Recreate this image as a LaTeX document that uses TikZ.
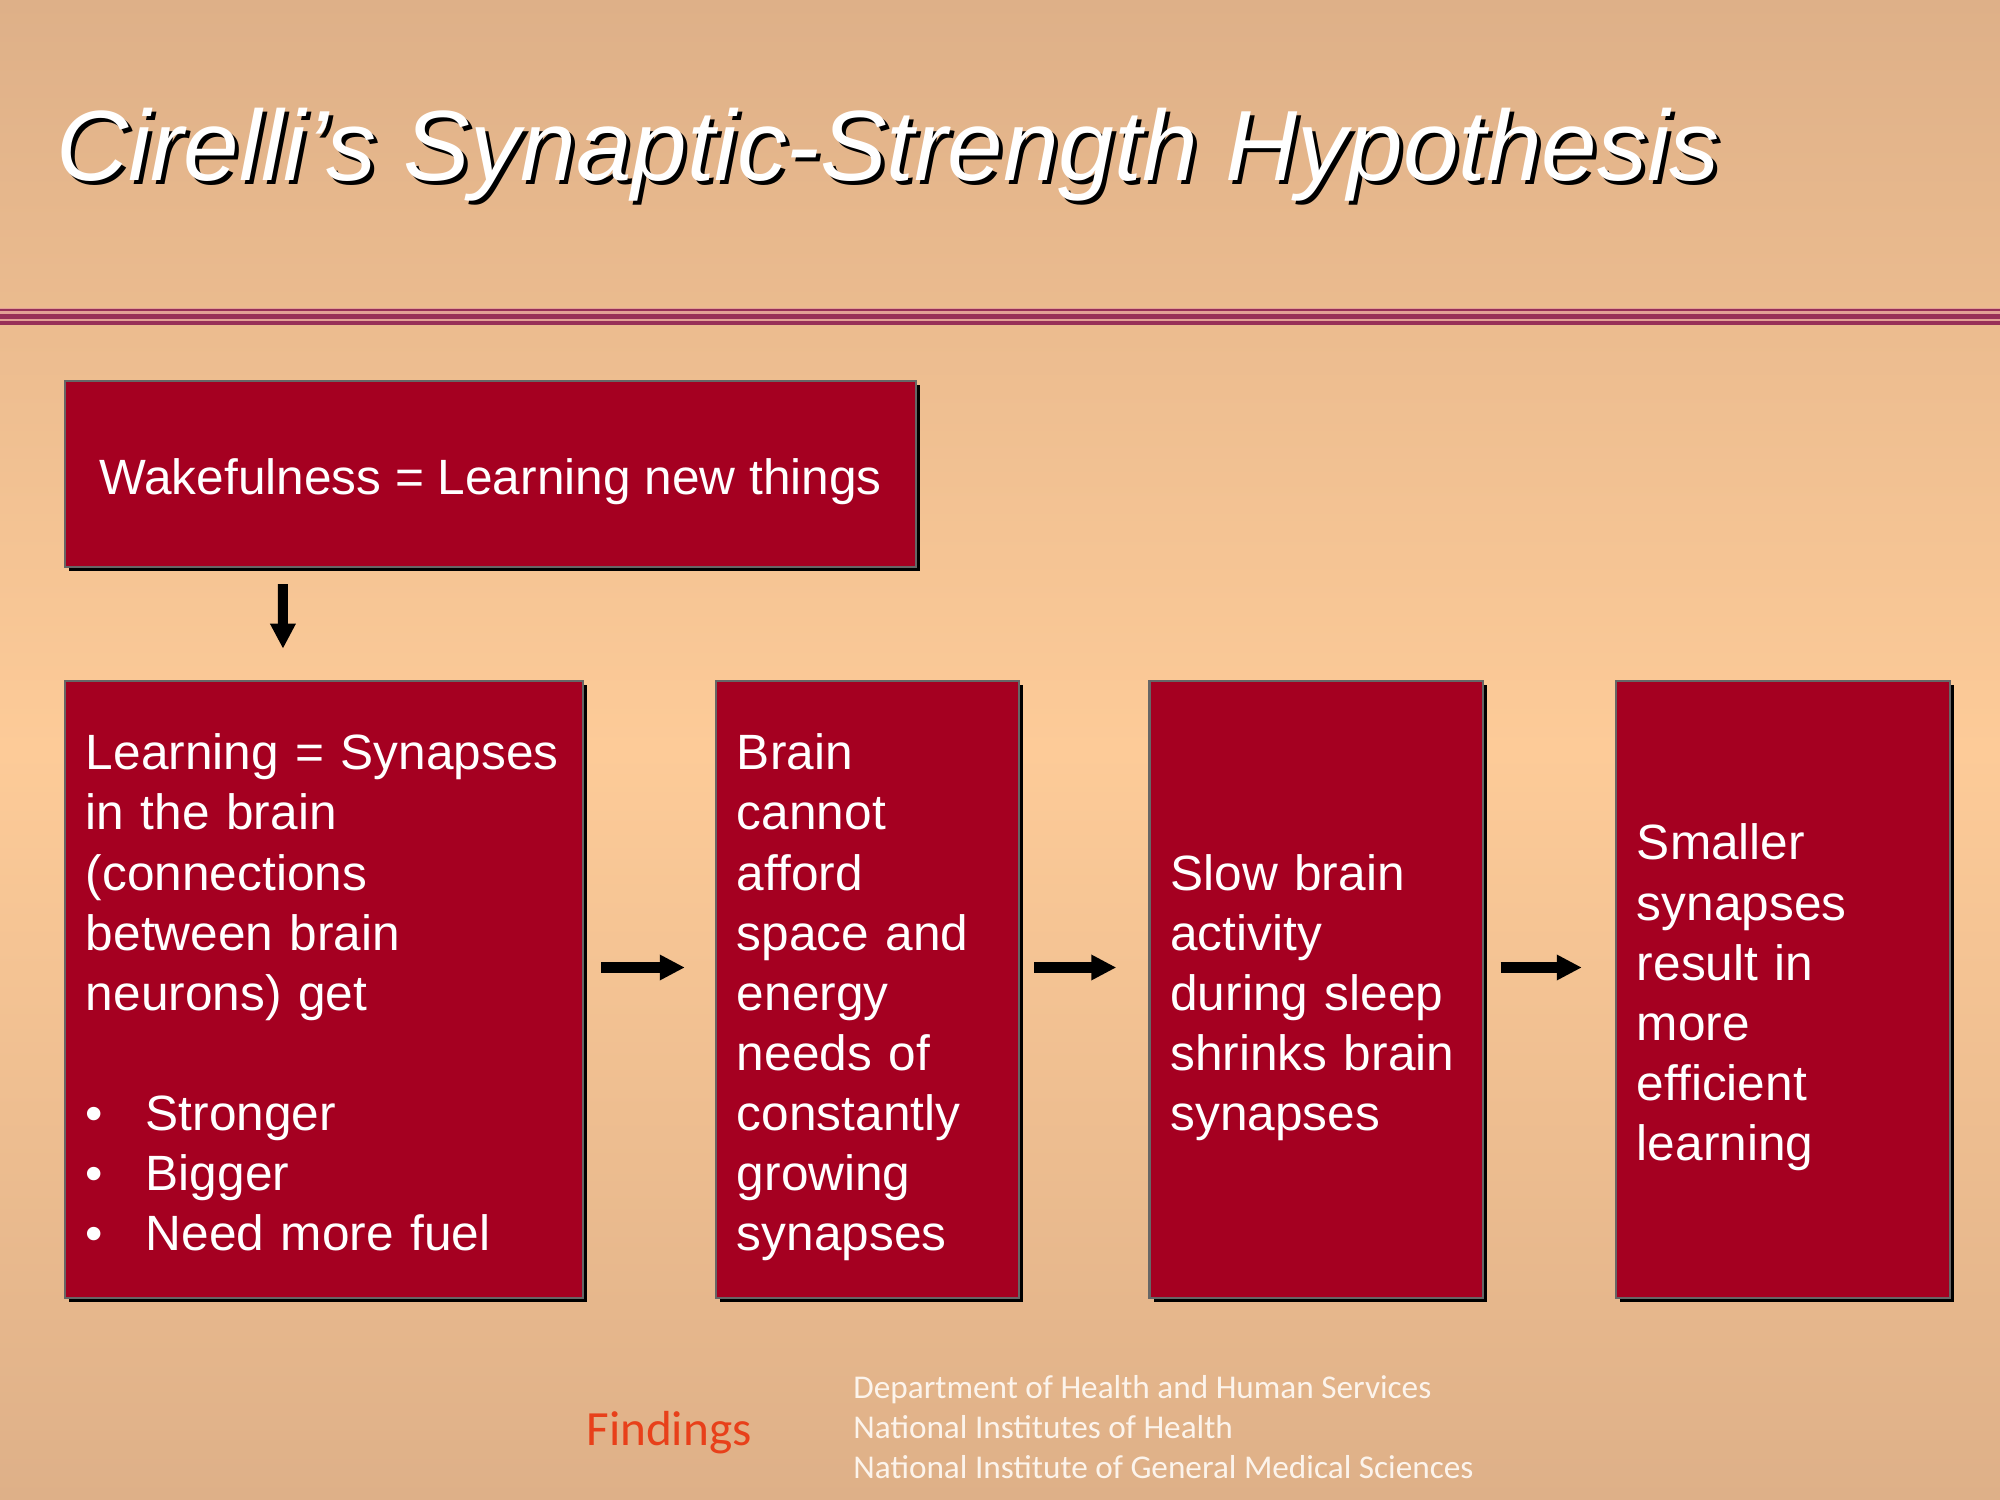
\documentclass[tikz,border=0pt]{standalone}
\usepackage{fontspec}
\setmainfont{Liberation Sans}
\newfontfamily\footfont{Carlito}
\usetikzlibrary{arrows.meta,shadows}

\definecolor{bgedge}{RGB}{222,176,136}
\definecolor{bgmid}{RGB}{253,203,152}
\definecolor{boxred}{RGB}{165,0,33}
\definecolor{rulemag}{RGB}{152,48,88}
\definecolor{rulepink}{RGB}{226,160,150}
\definecolor{findred}{RGB}{232,64,26}
\definecolor{footwhite}{RGB}{252,244,236}

% struts giving every text block the same top and bottom extent
\newcommand{\firststrut}{\rule{0pt}{14.65pt}}
\newcommand{\laststrut}{\rule[-2.96pt]{0pt}{2.96pt}}

\begin{document}
\begin{tikzpicture}[x=0.01cm, y=-0.01cm,
  redbox/.style={draw=black!60, line width=0.022cm, fill=boxred, text=white,
    font=\fontsize{14.1pt}{17.07pt}\selectfont,
    inner xsep=0.21cm, inner ysep=0pt, align=left,
    drop shadow={shadow xshift=0.042cm, shadow yshift=-0.042cm, fill=black, opacity=1}},
  flowarrow/.style={-{Triangle[length=0.25cm,width=0.24cm]}, line width=0.1cm, black},
  titletext/.style={anchor=base west, font=\fontsize{28.4pt}{34pt}\selectfont\itshape},
  footline/.style={anchor=base west, text=footwhite, font=\footfont\fontsize{9.45pt}{11.3pt}\selectfont},
]
% page background
\useasboundingbox (0,0) rectangle (2000,1500);
\shade[top color=bgedge, bottom color=bgedge, middle color=bgmid] (0,0) rectangle (2000,1500);

% title with its shadow
\node[titletext, text=black] (titleshadow) at (48,185) {Cirelli’s Synaptic-Strength Hypothesis};
\node[titletext, text=white] (title) at (44,181) {Cirelli’s Synaptic-Strength Hypothesis};

% triple rule under the title
\fill[rulepink] (0,308) rectangle (2000,325);
\fill[rulemag] (0,308.7) rectangle (2000,311);
\fill[rulemag] (0,313.7) rectangle (2000,319.3);
\fill[rulemag] (0,321.3) rectangle (2000,324.7);

% boxes
\node[redbox, align=center, minimum width=8.51cm, minimum height=1.86cm] (wake) at (490.5,474)
  {\firststrut Wakefulness = Learning new things\laststrut};

\node[redbox, minimum width=5.18cm, minimum height=6.17cm, text width=4.76cm] (learn) at (324,989.5)
  {\firststrut Learning = Synapses\\ in the brain\\ (connections\\ between brain\\ neurons) get\\[0.6cm]
   \makebox[0.6cm][l]{\textbullet}Stronger\\
   \makebox[0.6cm][l]{\textbullet}Bigger\\
   \makebox[0.6cm][l]{\textbullet}Need more fuel\laststrut};

\node[redbox, minimum width=3.03cm, minimum height=6.17cm, text width=2.61cm] (brain) at (867.5,989.5)
  {\firststrut Brain\\ cannot\\ afford\\ space and\\ energy\\ needs of\\ constantly\\ growing\\ synapses\laststrut};

\node[redbox, minimum width=3.33cm, minimum height=6.17cm, text width=2.91cm] (slow) at (1316,989.5)
  {\firststrut Slow brain\\ activity\\ during sleep\\ shrinks brain\\ synapses\laststrut};

\node[redbox, minimum width=3.34cm, minimum height=6.17cm, text width=2.92cm] (small) at (1783,989.5)
  {\firststrut Smaller\\ synapses\\ result in\\ more\\ efficient\\ learning\laststrut};

% connectors
\draw[flowarrow] ([xshift=-2.075cm, yshift=-0.16cm]wake.south) -- ([xshift=-0.41cm, yshift=0.31cm]learn.north);
\draw[flowarrow] ([xshift=0.17cm, yshift=0.22cm]learn.east) -- ([xshift=-0.30cm, yshift=0.22cm]brain.west);
\draw[flowarrow] ([xshift=0.14cm, yshift=0.22cm]brain.east) -- ([xshift=-0.32cm, yshift=0.22cm]slow.west);
\draw[flowarrow] ([xshift=0.17cm, yshift=0.22cm]slow.east) -- ([xshift=-0.33cm, yshift=0.22cm]small.west);

% footer
\node[anchor=base west, text=findred, font=\footfont\fontsize{14pt}{17pt}\selectfont] (findings) at (574,1445) {Findings};
\node[footline] (dhhs) at (841,1398) {Department of Health and Human Services};
\node[footline] (nih) at (841,1438) {National Institutes of Health};
\node[footline] (nigms) at (841,1478) {National Institute of General Medical Sciences};
\end{tikzpicture}
\end{document}
